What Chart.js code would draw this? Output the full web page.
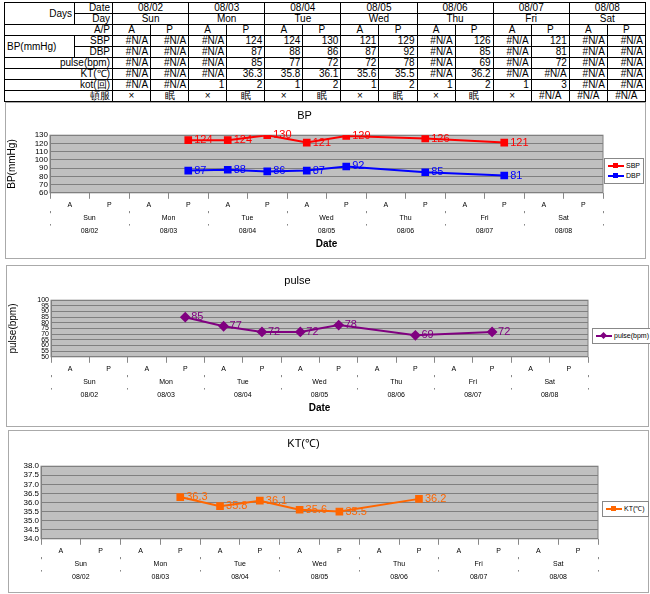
<!DOCTYPE html>
<html><head><meta charset="utf-8">
<script src="https://cdn.jsdelivr.net/npm/chart.js@4.4.0/dist/chart.umd.min.js"></script>
<style>
body{margin:0;background:#fff;font-family:"Liberation Sans",Arial,sans-serif;}
table{position:absolute;left:4px;top:2px;border-collapse:collapse;font-size:10px;width:642px;table-layout:fixed;}
td{border:1px solid #000;height:10px;padding:0 2px;line-height:10px;text-align:right;white-space:nowrap;overflow:hidden;}
td.c{text-align:center;}
.box{position:absolute;border:1px solid #aaa;background:#fff;}
.leg{position:absolute;border:1px solid #888;font-size:7px;padding:2px 3px;line-height:10px;background:#fff;white-space:nowrap;}
.leg i{display:inline-block;width:16px;height:2px;vertical-align:middle;margin-right:2px;position:relative;}
.leg i b{position:absolute;left:5px;top:-2px;width:5px;height:5px;}
</style></head><body>
<table id="tbl"></table>
<div class="box" style="left:5px;top:102px;width:639px;height:155px"><canvas id="bp"></canvas>
<div class="leg" style="left:598px;top:55px"><div><i style="background:#f00"><b style="background:#f00"></b></i>SBP</div><div><i style="background:#00f"><b style="background:#00f"></b></i>DBP</div></div></div>
<div class="box" style="left:6px;top:265px;width:641px;height:160px"><canvas id="pulse"></canvas>
<div class="leg" style="left:585px;top:62px"><div><i style="background:#800080"><b style="background:#800080;transform:rotate(45deg)"></b></i>pulse(bpm)</div></div></div>
<div class="box" style="left:8px;top:430px;width:639px;height:161px"><canvas id="kt"></canvas>
<div class="leg" style="left:593px;top:70px"><div><i style="background:#ff6600"><b style="background:#ff6600"></b></i>KT(℃)</div></div></div>
<script>
const dates = ["08/02","08/03","08/04","08/05","08/06","08/07","08/08"];
const days = ["Sun","Mon","Tue","Wed","Thu","Fri","Sat"];
const ap = ["A","P","A","P","A","P","A","P","A","P","A","P","A","P"];
const sbp = [null,null,null,124,124,130,121,129,null,126,null,121,null,null];
const dbp = [null,null,null,87,88,86,87,92,null,85,null,81,null,null];
const pulse = [null,null,null,85,77,72,72,78,null,69,null,72,null,null];
const kt = [null,null,null,36.3,35.8,36.1,35.6,35.5,null,36.2,null,null,null,null];
const kot = [null,null,1,2,1,2,1,2,1,2,1,3,null,null];
const sleep = ["×","眠","×","眠","×","眠","×","眠","×","眠","×",null,null,null];

// table
const NA = "#N/A";
function row(cells){return "<tr>"+cells+"</tr>";}
function vals(arr,fmt){return arr.map(v=>"<td>"+(v===null?NA:(fmt?fmt(v):v))+"</td>").join("");}
let h = '<colgroup><col style="width:70px"><col style="width:38px">'+ap.map(()=>'<col>').join("")+'</colgroup>';
h += row('<td rowspan="2" class="c" style="text-align:right">Days</td><td>Date</td>'+dates.map(d=>'<td colspan="2" class="c">'+d+'</td>').join(""));
h += row('<td>Day</td>'+days.map(d=>'<td colspan="2" class="c">'+d+'</td>').join(""));
h += row('<td colspan="2">A/P</td>'+ap.map(a=>'<td class="c">'+a+'</td>').join(""));
h += row('<td rowspan="2" style="text-align:left">BP(mmHg)</td><td>SBP</td>'+vals(sbp));
h += row('<td>DBP</td>'+vals(dbp));
h += row('<td colspan="2">pulse(bpm)</td>'+vals(pulse));
h += row('<td colspan="2">KT(℃)</td>'+vals(kt,v=>v.toFixed(1)));
h += row('<td colspan="2">kot(回)</td>'+vals(kot));
h += row('<td colspan="2">頓服</td>'+sleep.map(v=>'<td class="c">'+(v===null?NA:v)+'</td>').join(""));
document.getElementById("tbl").innerHTML = h;

const bgPlugin = {id:"bg",beforeDraw(c){const a=c.chartArea,x=c.ctx;x.save();x.fillStyle="#c0c0c0";x.fillRect(a.left,a.top,a.right-a.left,a.bottom-a.top);x.strokeStyle="#808080";x.strokeRect(a.left,a.top,a.right-a.left,a.bottom-a.top);x.restore();}};
const lblPlugin = {id:"lbl",afterDatasetsDraw(c,args,o){const x=c.ctx;x.save();x.font="11px 'Liberation Sans'";x.textBaseline="middle";
  c.data.datasets.forEach((ds,i)=>{const m=c.getDatasetMeta(i);x.fillStyle=ds.borderColor;m.data.forEach((p,j)=>{const v=ds.data[j];if(v===null)return;x.fillText(o.dec?v.toFixed(1):v,p.x+6,p.y);});});x.restore();}};

function makeChart(id,w,hh,datasets,ymin,ymax,step,opts){
  const cv=document.getElementById(id);cv.width=w;cv.height=hh;cv.style.width=w+"px";cv.style.height=hh+"px";
  const tick={font:{size:7},color:"#000",padding:1};
  return new Chart(cv,{type:"line",data:{labels:ap,datasets},
    plugins:[bgPlugin,lblPlugin],
    options:{responsive:false,animation:false,spanGaps:true,
      layout:{padding:opts.pad},
      plugins:{legend:{display:false},tooltip:{enabled:false},
        title:{display:true,text:opts.title,font:{size:11,weight:"normal"},color:"#000",padding:{top:opts.tt,bottom:opts.tb}},
        lbl:{dec:opts.dec}},
      scales:{
        y:{min:ymin,max:ymax,ticks:{stepSize:step,autoSkip:false,font:{size:opts.yf},color:"#000",padding:2,callback:v=>opts.dec?v.toFixed(1):v},
          grid:{color:"#808080",drawTicks:false},border:{color:"#808080"},afterFit:s=>{s.width=opts.yw;},
          title:{display:!!opts.ytitle,text:opts.ytitle,font:{size:10},color:"#000",padding:0}},
        x:{offset:true,ticks:{...tick,padding:2},grid:{offset:true,drawOnChartArea:false,tickLength:6,color:"#888"},border:{display:false}},
        x2:{type:"category",labels:days,offset:true,ticks:tick,grid:{offset:true,drawOnChartArea:false,tickLength:2,color:"#888"},border:{display:false}},
        x3:{type:"category",labels:dates,offset:true,ticks:tick,grid:{offset:true,drawOnChartArea:false,tickLength:2,color:"#888"},border:{display:false},
          title:{display:!!opts.xtitle,text:opts.xtitle,font:{size:10,weight:"bold"},color:"#000",padding:{top:2,bottom:0}}}
      }}});
}
function ds(label,data,color,style){return {label,data,borderColor:color,backgroundColor:color,pointStyle:style,pointRadius:4,borderWidth:2};}
makeChart("bp",639,155,[ds("SBP",sbp,"#ff0000","rect"),ds("DBP",dbp,"#0000ff","rect")],60,130,10,
  {title:"BP",tt:6,tb:13,yf:8,ytitle:"BP(mmHg)",xtitle:"Date",yw:44,pad:{left:0,right:42,bottom:8},dec:false});
makeChart("pulse",641,160,[ds("pulse(bpm)",pulse,"#800080","rectRot")],50,100,5,
  {title:"pulse",tt:8,tb:13,yf:7,ytitle:"pulse(bpm)",xtitle:"Date",yw:44,pad:{left:0,right:60,bottom:12},dec:false});
makeChart("kt",639,161,[ds("KT(℃)",kt,"#ff6600","rect")],34,38,0.5,
  {title:"KT(℃)",tt:6,tb:16,yf:8,yw:32,pad:{left:0,right:50,bottom:10},dec:true});
</script></body></html>
